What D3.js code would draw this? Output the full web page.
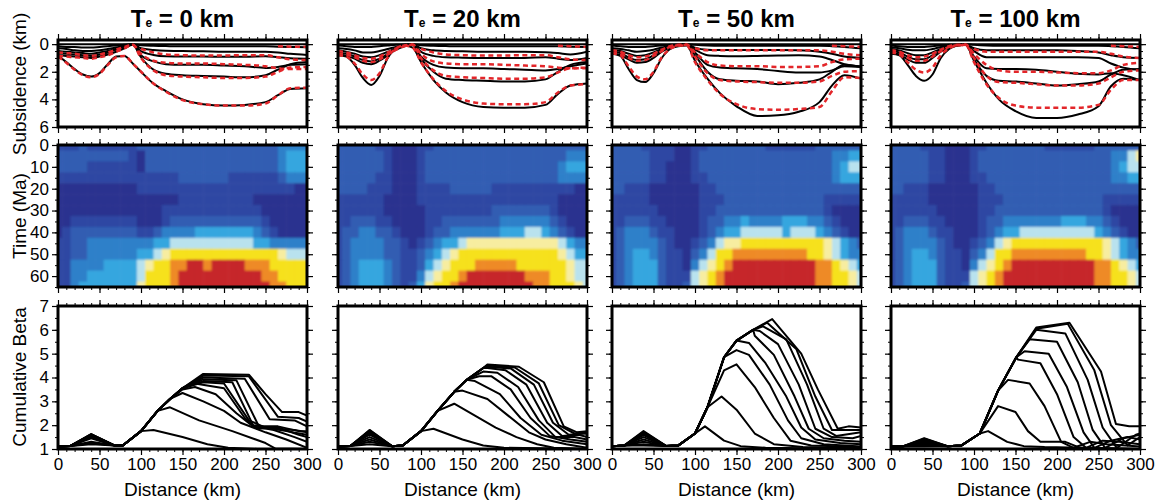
<!DOCTYPE html>
<html>
<head>
<meta charset="utf-8">
<script src="https://cdn.jsdelivr.net/npm/d3@7"></script>
<style>
  body { margin: 0; background: #fff; }
  text { font-family: "Liberation Sans", Arial, Helvetica, sans-serif; }
</style>
</head>
<body>
<div id="fig"></div>
<script>
// elastic thickness of each column (km)
const teValues = ["0", "20", "50", "100"];

// distance nodes for the subsidence horizons (km)
const sx = [0,10,20,30,40,50,60,70,80,90,100,115,130,150,175,200,225,250,265,280,300];
const surface = [0,0,0,0,0,0,0,0,0,0,0,0,0,0,0,0,0,0,0,0,0];

// subsidence of horizons (km): black = model, red = observed (null = not shown)
const sub0Black = [
  [0.15,0.2,0.2,0.25,0.25,0.2,0.15,0.1,0.05,0, 0.08,0.12,0.14,0.15,0.15,0.15,0.15,0.15,0.18,0.2,0.22],
  [0.3,0.35,0.45,0.5,0.5,0.45,0.35,0.25,0.1,0.02, 0.3,0.42,0.48,0.5,0.52,0.55,0.55,0.55,0.6,0.7,0.78],
  [0.5,0.55,0.6,0.65,0.7,0.6,0.5,0.35,0.15,0.03, 0.5,0.78,0.88,0.9,0.9,0.92,0.92,0.88,0.95,1.02,1.05],
  [0.65,0.7,0.75,0.8,0.85,0.75,0.6,0.4,0.2,0.05, 0.8,1.25,1.45,1.5,1.5,1.55,1.6,1.72,1.65,1.5,1.45],
  [0.8,0.85,0.9,0.95,1.0,0.9,0.75,0.55,0.3,0.05, 0.95,1.85,2.15,2.25,2.3,2.35,2.4,2.25,1.85,1.45,1.3],
  [0.85,1.3,1.8,2.2,2.35,2.1,1.45,0.9,0.85,1.4, 2.0,2.85,3.4,4.0,4.35,4.45,4.4,4.2,3.7,3.25,3.2]
];
const sub0Red = [
  [null,null,null,null,null,null,null,null,null,null, null,null,null,null,null,null,null,null,0.15,0.18,0.2],
  [null,null,null,null,null,null,null,null,null,null, 0.35,0.6,0.75,0.8,0.82,0.82,0.8,0.8,0.95,1.1,1.15],
  [0.6,0.65,0.7,0.8,0.85,0.75,0.6,0.4,0.2,0.05, 0.7,1.2,1.35,1.4,1.4,1.45,1.5,1.6,1.75,1.8,1.8],
  [0.85,0.9,0.95,1.0,1.05,0.95,0.8,0.55,0.3,0.05, 1.0,1.9,2.25,2.35,2.4,2.45,2.45,2.35,2.0,1.7,1.65],
  [0.9,1.35,1.85,2.25,2.4,2.15,1.5,0.95,0.85,1.4, 2.0,2.85,3.45,4.05,4.35,4.45,4.45,4.3,3.7,3.2,3.15]
];
const sub20Black = [
  [0.1,0.15,0.2,0.2,0.2,0.15,0.1,0.05,0.02,0, 0.08,0.12,0.14,0.15,0.15,0.15,0.15,0.15,0.15,0.18,0.2],
  [0.3,0.35,0.45,0.6,0.6,0.5,0.35,0.2,0.08,0.02, 0.3,0.45,0.5,0.52,0.55,0.55,0.55,0.58,0.65,0.75,0.55],
  [0.45,0.55,0.7,0.9,0.95,0.8,0.55,0.3,0.1,0.03, 0.55,0.85,0.95,0.98,1.0,1.0,1.0,0.95,1.05,1.15,1.0],
  [0.6,0.7,0.9,1.15,1.25,1.05,0.7,0.35,0.12,0.05, 0.9,1.5,1.7,1.75,1.75,1.8,1.85,1.9,1.8,1.6,1.4],
  [0.7,0.85,1.05,1.35,1.45,1.2,0.8,0.4,0.15,0.05, 1.05,2.0,2.5,2.6,2.65,2.7,2.7,2.55,2.0,1.5,1.3],
  [0.8,0.9,1.5,2.45,2.95,2.3,1.0,0.3,0.1,0.25, 1.3,2.6,3.5,4.2,4.55,4.6,4.6,4.4,3.6,3.0,2.85]
];
const sub20Red = [
  [null,null,null,null,null,null,null,null,null,null, null,null,null,null,null,null,null,null,0.12,0.15,0.2],
  [null,null,null,null,null,null,null,null,null,null, 0.35,0.6,0.75,0.8,0.82,0.82,0.8,0.8,0.95,1.1,1.15],
  [0.5,0.6,0.8,1.0,1.05,0.9,0.6,0.3,0.1,0.03, 0.7,1.25,1.4,1.45,1.45,1.5,1.55,1.6,1.7,1.75,1.75],
  [0.65,0.75,0.95,1.2,1.3,1.1,0.75,0.4,0.15,0.05, 1.0,1.9,2.3,2.4,2.45,2.5,2.5,2.4,2.05,1.75,1.7],
  [0.8,0.9,1.4,2.2,2.6,2.1,0.95,0.3,0.1,0.25, 1.3,2.55,3.4,4.0,4.3,4.35,4.35,4.2,3.5,3.0,2.9]
];
const sub50Black = [
  [0.1,0.15,0.2,0.2,0.2,0.15,0.1,0.05,0.02,0, 0.05,0.1,0.12,0.12,0.12,0.12,0.12,0.12,0.15,0.2,0.3],
  [0.3,0.35,0.45,0.55,0.5,0.4,0.25,0.1,0.05,0.02, 0.25,0.4,0.42,0.43,0.43,0.43,0.45,0.55,0.7,0.9,1.0],
  [0.4,0.5,0.7,0.85,0.8,0.6,0.35,0.15,0.05,0.03, 0.4,0.8,0.85,0.87,0.85,0.82,0.8,0.9,1.15,1.45,1.6],
  [0.55,0.65,0.95,1.15,1.1,0.8,0.45,0.2,0.08,0.05, 0.6,1.5,1.7,1.75,1.8,1.95,2.05,2.05,1.9,1.6,1.65],
  [0.65,0.8,1.1,1.35,1.3,1.0,0.55,0.25,0.1,0.05, 0.8,2.0,2.55,2.65,2.7,2.9,2.8,2.55,2.0,1.5,1.65],
  [0.7,0.85,1.8,2.6,2.75,2.1,1.0,0.35,0.15,0.1, 1.2,2.5,3.55,4.5,5.2,5.15,4.9,4.2,3.0,2.25,2.5]
];
const sub50Red = [
  [null,null,null,null,null,null,null,null,null,null, null,null,null,null,null,null,null,null,0.12,0.15,0.2],
  [null,null,null,null,null,null,null,null,null,null, 0.3,0.45,0.45,0.45,0.45,0.45,0.45,0.45,0.55,0.7,0.8],
  [0.45,0.55,0.8,0.95,0.9,0.7,0.4,0.15,0.05,0.03, 0.6,1.3,1.55,1.6,1.6,1.65,1.65,1.6,1.3,1.1,1.05],
  [0.6,0.7,1.0,1.2,1.15,0.85,0.5,0.2,0.08,0.05, 0.9,2.1,2.6,2.7,2.75,2.8,2.8,2.7,2.3,2.0,1.95],
  [0.65,0.8,1.6,2.35,2.55,2.0,0.95,0.35,0.12,0.1, 1.3,2.6,3.6,4.35,4.7,4.75,4.7,4.55,3.4,2.4,2.45]
];
const sub100Black = [
  [0.1,0.15,0.2,0.2,0.2,0.15,0.1,0.05,0.02,0, 0.05,0.1,0.12,0.12,0.12,0.12,0.12,0.12,0.15,0.2,0.3],
  [0.25,0.3,0.4,0.45,0.45,0.35,0.2,0.1,0.05,0.02, 0.3,0.45,0.45,0.45,0.45,0.45,0.5,0.6,0.8,0.95,1.0],
  [0.35,0.45,0.65,0.8,0.8,0.6,0.35,0.15,0.05,0.03, 0.5,0.95,0.95,0.95,0.95,0.95,0.95,1.0,1.4,1.7,1.85],
  [0.5,0.6,0.9,1.1,1.1,0.8,0.45,0.2,0.08,0.05, 0.9,1.75,1.8,1.8,1.85,2.0,2.15,2.2,2.1,2.25,2.6],
  [0.6,0.75,1.1,1.35,1.35,1.0,0.55,0.25,0.1,0.05, 1.1,2.3,2.65,2.7,2.85,3.0,2.9,2.7,2.2,1.85,1.8],
  [0.7,0.8,1.5,2.3,2.65,2.2,1.0,0.35,0.1,0.05, 1.2,2.8,4.0,4.85,5.35,5.35,5.1,4.5,3.05,2.5,2.6]
];
const sub100Red = [
  [null,null,null,null,null,null,null,null,null,null, null,null,null,null,null,null,null,null,0.12,0.15,0.2],
  [null,null,null,null,null,null,null,null,null,null, 0.35,0.55,0.55,0.55,0.55,0.55,0.55,0.55,0.7,0.9,1.0],
  [0.45,0.55,0.8,0.95,0.9,0.7,0.4,0.15,0.05,0.03, 0.7,1.5,1.9,2.0,2.0,2.05,2.1,2.1,1.9,1.5,1.35],
  [0.55,0.7,1.0,1.2,1.2,0.9,0.5,0.2,0.08,0.05, 1.0,2.3,2.75,2.8,2.9,3.0,3.0,2.85,2.4,2.0,1.9],
  [0.6,0.75,1.3,1.85,2.05,1.7,0.8,0.3,0.1,0.05, 1.3,2.9,3.9,4.45,4.6,4.6,4.6,4.4,3.3,2.6,2.6]
];

// strain-rate levels 0..9; rows are 0,5,...,65 Ma, columns 0,10,...,300 km
const heat0 = [
  "1112111111 2222222222 2222222333 3",
  "2222222221 0222222222 2222222344 4",
  "2222111111 0222222222 2222222344 4",
  "1111111111 1111122222 2111111233 3",
  "0000000000 1111111111 1111111110 0",
  "0000000000 0000011111 1111000000 0",
  "0000000000 0001111111 1111100000 0",
  "0011111111 0001222222 2222210000 0",
  "0122222222 1123333444 4444321000 0",
  "1122333333 3344555555 5555443333 3",
  "1122333333 4456777777 7777777655 5",
  "1133334444 5677889989 9998887777 7",
  "1133444444 5777899999 9999988777 7",
  "1134444444 6777899999 9999998877 7"
];
const heat20 = [
  "2222211000 1122222222 2222222222 2",
  "2222221000 1222222222 2222222233 3",
  "2222221000 1222222222 2222222344 4",
  "2222211000 1222222222 2222222333 3",
  "2222111000 1111222221 1111111110 0",
  "1111110000 1111111111 1111111000 0",
  "1111110000 0111111112 2222221000 0",
  "1122211000 0112222222 3333332100 0",
  "1223322100 0122333333 4445543210 0",
  "1233332210 1234456666 6666666543 3",
  "1233332211 2345677777 7777777654 4",
  "1234443211 2456777888 8877777765 5",
  "1234443211 3567789999 9998887765 5",
  "1234443212 4677899999 9999887776 5"
];
const heat50 = [
  "2222111100 1122222221 1111122222 2",
  "2222211100 1222222222 2222222334 4",
  "2222211000 1222222222 2222222345 5",
  "2222211000 1122222222 2222222344 4",
  "2211100000 0112222222 2222222222 2",
  "1111100000 0111222222 2222221111 1",
  "1111110000 0112222222 2222221000 0",
  "1122211000 0122334333 3444332100 0",
  "1233321100 0123445555 5455543210 0",
  "1233332100 1235667777 7777776543 2",
  "1234432110 2357788888 8888776543 3",
  "1234442110 3567899999 9999988765 4",
  "1234442111 5678999999 9999988776 5",
  "1234442112 5678999999 9999988776 5"
];
const heat100 = [
  "2222111000 1122222221 1111122222 2",
  "2222211000 1222222222 2222222335 6",
  "2222211000 1222222222 2222222345 5",
  "2222211000 1122222222 2222222334 4",
  "2211100000 0112222222 2222222222 2",
  "1111100000 0111222222 2222221111 1",
  "1111110000 0112222222 2222221000 0",
  "1122211000 0122333333 3444332100 0",
  "1233321100 0123445555 5555543210 0",
  "1233332100 1235677777 7777776543 2",
  "1234432110 2357788888 8888776543 3",
  "1234442110 3567899999 9999988765 4",
  "1234442111 5678999999 9999988776 5",
  "1234442112 5678999999 9999988776 5"
];
const heatColours = ["#2a328f", "#2d47a3", "#305db2", "#2f80c9", "#35a6df",
                     "#b9e2ee", "#f7eda0", "#f6e11e", "#ee8a26", "#c6282b"];

// cumulative beta: shared rising flank [km, beta], bump height per line, then each line's falling part
const beta0Rise = [[0,1.1],[15,1.13],[40,1.6],[68,1.15],[78,1.15],[100,1.75],[120,2.6],[135,3.1],[150,3.55],[175,4.1]];
const beta0Bump = [1.2,1.25,1.3,1.45,1.5,1.55,1.55,1.6,1.6,1.62,1.62];
const beta0Lines = [
  [[115,1.8],[150,1.5],[180,1.2],[205,1.05],[240,1.0],[300,1.0]],
  [[135,2.75],[170,2.2],[210,1.75],[250,1.25],[262,1.02],[300,1.0]],
  [[150,3.35],[175,3.0],[200,2.6],[220,2.1],[250,1.7],[275,1.4],[300,1.05]],
  [[150,3.5],[165,3.6],[190,3.3],[215,2.5],[235,1.95],[260,1.8],[285,1.5],[300,1.3]],
  [[165,3.75],[200,3.55],[225,2.3],[240,1.85],[265,1.9],[290,1.6],[300,1.5]],
  [[175,3.8],[200,3.75],[230,2.2],[250,1.9],[275,1.75],[300,1.6]],
  [[175,3.85],[210,3.8],[235,2.0],[260,1.85],[285,1.8],[300,1.7]],
  [[175,3.92],[215,3.88],[242,1.95],[265,1.95],[290,1.75],[300,1.75]],
  [[175,4.0],[225,3.95],[255,2.25],[285,2.2],[300,1.95]],
  [[175,4.08],[230,4.05],[265,2.35],[290,2.3],[300,2.15]],
  [[175,4.15],[230,4.12],[250,3.3],[270,2.55],[290,2.55],[300,2.4]]
];
const beta20Rise = [[0,1.1],[15,1.13],[38,1.8],[65,1.12],[78,1.15],[100,1.75],[120,2.6],[140,3.4],[155,3.9],[175,4.4]];
const beta20Bump = [1.2,1.3,1.4,1.5,1.6,1.65,1.7,1.75,1.78,1.8];
const beta20Lines = [
  [[115,1.85],[150,1.4],[175,1.15],[200,1.05],[300,1.0]],
  [[140,2.9],[165,2.4],[190,1.9],[215,1.5],[240,1.2],[260,1.05],[300,1.0]],
  [[150,3.45],[180,3.1],[205,2.4],[230,1.7],[250,1.4],[275,1.2],[300,1.05]],
  [[165,3.85],[195,3.3],[220,2.3],[245,1.6],[270,1.35],[300,1.2]],
  [[170,4.05],[185,4.05],[208,3.5],[232,2.3],[255,1.55],[280,1.4],[300,1.3]],
  [[175,4.25],[192,4.2],[217,3.6],[242,2.2],[262,1.5],[285,1.5],[300,1.4]],
  [[180,4.4],[202,4.3],[227,3.7],[252,2.1],[270,1.55],[290,1.6],[300,1.5]],
  [[180,4.45],[208,4.38],[236,3.7],[259,2.1],[278,1.6],[300,1.65]],
  [[180,4.5],[213,4.42],[242,3.75],[266,2.0],[285,1.65],[300,1.7]],
  [[180,4.55],[218,4.45],[248,3.8],[272,1.95],[288,1.7],[300,1.75]]
];
const beta50Rise = [[0,1.12],[15,1.15],[38,1.75],[65,1.13],[80,1.15],[100,1.65],[115,2.75],[135,4.85],[150,5.55],[170,6.0]];
const beta50Bump = [1.15,1.2,1.3,1.4,1.5,1.58,1.64,1.68,1.72,1.75];
const beta50Lines = [
  [[112,1.95],[135,1.35],[155,1.12],[185,1.05],[300,1.0]],
  [[132,3.2],[150,2.65],[172,1.65],[195,1.2],[230,1.08],[300,1.03]],
  [[135,4.3],[150,4.55],[172,3.6],[195,2.3],[215,1.35],[240,1.15],[300,1.08]],
  [[150,5.15],[165,4.95],[190,3.7],[212,2.2],[228,1.45],[255,1.2],[300,1.1]],
  [[165,5.45],[185,4.6],[210,3.2],[228,1.9],[245,1.4],[275,1.25],[300,1.2]],
  [[172,5.75],[195,4.95],[220,3.2],[237,1.85],[255,1.45],[280,1.35],[300,1.3]],
  [[178,5.95],[200,5.4],[225,3.7],[245,1.85],[265,1.5],[290,1.45],[300,1.55]],
  [[182,6.15],[210,5.6],[235,3.7],[255,1.85],[270,1.55],[300,1.7]],
  [[187,6.3],[222,5.2],[245,3.2],[265,1.8],[285,1.8],[300,1.8]],
  [[193,6.45],[228,5.0],[248,3.5],[272,1.85],[285,1.95],[300,1.9]]
];
const beta100Rise = [[0,1.1],[15,1.12],[40,1.45],[68,1.12],[85,1.15],[107,1.65],[129,3.45],[151,4.85],[175,6.0]];
const beta100Bump = [1.1,1.15,1.2,1.25,1.3,1.35,1.4,1.43,1.45];
const beta100Lines = [
  [[117,1.75],[140,1.3],[160,1.12],[185,1.08],[300,1.0]],
  [[129,2.8],[150,2.55],[165,1.75],[180,1.3],[210,1.3],[228,1.05],[300,1.0]],
  [[141,3.9],[167,3.75],[185,2.8],[205,1.3],[220,1.05],[240,1.3],[260,1.2],[300,1.1]],
  [[153,4.75],[180,4.6],[200,3.3],[220,1.5],[235,1.05],[255,1.35],[275,1.3],[300,1.2]],
  [[161,5.1],[190,5.0],[212,3.6],[232,1.7],[245,1.05],[265,1.35],[285,1.5],[300,1.4]],
  [[167,5.6],[200,5.5],[225,3.8],[243,1.8],[258,1.05],[280,1.45],[300,1.6]],
  [[175,6.0],[210,5.85],[237,3.9],[255,1.9],[272,1.05],[295,1.6],[300,1.65]],
  [[175,6.05],[213,6.25],[245,4.3],[265,2.0],[285,1.15],[300,1.5]],
  [[175,6.1],[215,6.3],[253,4.25],[271,2.05],[287,1.95],[300,1.95]]
];

(function() {
  const width = 1165, height = 504;
  const colX = [58, 338, 612, 891], pw = 249;
  const font = '"Liberation Sans", Arial, Helvetica, sans-serif';

  const subBlack = [sub0Black, sub20Black, sub50Black, sub100Black];
  const subRed = [sub0Red, sub20Red, sub50Red, sub100Red];
  const heats = [heat0, heat20, heat50, heat100];
  const rises = [beta0Rise, beta20Rise, beta50Rise, beta100Rise];
  const bumps = [beta0Bump, beta20Bump, beta50Bump, beta100Bump];
  const betaLines = [beta0Lines, beta20Lines, beta50Lines, beta100Lines];

  const svg = d3.select("#fig").append("svg")
      .attr("width", width).attr("height", height);
  const defs = svg.append("defs");

  // soften the gridded image a little, like the interpolated original
  defs.append("filter").attr("id", "soft")
      .attr("x", "-5%").attr("y", "-5%").attr("width", "110%").attr("height", "110%")
    .append("feGaussianBlur").attr("stdDeviation", 1.1);

  // ticks on all four sides, pointing outward
  function axes(x, y, yMajor, yMinor, showY, showX) {
    const top = d3.min(y.range()), bot = d3.max(y.range());
    const [x0, x1] = x.range();
    const xMaj = d3.range(0, 301, 50), xMin = d3.range(0, 301, 10);
    const sets = [
      [d3.axisTop, x, xMaj, xMin, false, `translate(0,${top})`],
      [d3.axisBottom, x, xMaj, xMin, showX, `translate(0,${bot})`],
      [d3.axisLeft, y, yMajor, yMinor, showY, `translate(${x0},0)`],
      [d3.axisRight, y, yMajor, yMinor, false, `translate(${x1},0)`]
    ];
    sets.forEach(([ax, s, maj, min, lab, tr]) => {
      svg.append("g").attr("transform", tr)
        .call(ax(s).tickValues(min).tickSize(3).tickFormat(""))
        .call(g => g.select(".domain").remove());
      svg.append("g").attr("transform", tr)
        .call(ax(s).tickValues(maj).tickSize(6).tickPadding(3).tickFormat(lab ? d3.format("d") : ""))
        .attr("font-size", 17).attr("font-family", font)
        .call(g => g.select(".domain").remove())
        .selectAll("line").attr("stroke-width", 1.2);
    });
  }

  function frame(x0, top, bot) {
    svg.append("rect")
      .attr("x", x0).attr("y", top).attr("width", pw).attr("height", bot - top)
      .attr("fill", "none").attr("stroke", "black").attr("stroke-width", 3);
  }

  function clipFor(id, x0, top, bot) {
    defs.append("clipPath").attr("id", id).append("rect")
      .attr("x", x0).attr("y", top).attr("width", pw).attr("height", bot - top);
    return svg.append("g").attr("clip-path", `url(#${id})`);
  }

  colX.forEach((x0, c) => {
    const x = d3.scaleLinear().domain([0, 300]).range([x0, x0 + pw]);

    // title
    const t = svg.append("text")
      .attr("x", x0 + pw / 2).attr("y", 27)
      .attr("text-anchor", "middle").attr("font-weight", "bold").attr("font-size", 24);
    t.append("tspan").text("T");
    t.append("tspan").attr("font-size", 12).text("e");
    t.append("tspan").text(" = " + teValues[c] + " km");

    // --- subsidence
    const ys = d3.scaleLinear().domain([-0.3, 6]).range([40, 127]);
    const g1 = clipFor("clipS" + c, x0, 40, 127);
    const subLine = d3.line()
      .defined(d => d !== null)
      .x((d, i) => x(sx[i])).y(d => ys(d))
      .curve(d3.curveMonotoneX);
    g1.append("path").attr("d", subLine(surface))
      .attr("fill", "none").attr("stroke", "black").attr("stroke-width", 2);
    g1.selectAll("path.blk").data(subBlack[c]).join("path").attr("class", "blk")
      .attr("d", subLine)
      .attr("fill", "none").attr("stroke", "black").attr("stroke-width", 2);
    g1.selectAll("path.red").data(subRed[c]).join("path").attr("class", "red")
      .attr("d", subLine)
      .attr("fill", "none").attr("stroke", "#e3262a").attr("stroke-width", 2.5)
      .attr("stroke-dasharray", "5,3.5");
    axes(x, ys, [0, 2, 4, 6], d3.range(0, 6.01, 0.5), c === 0, false);
    frame(x0, 40, 127);

    // --- time / strain-rate image (edge cells run past the frame so the blur stays even)
    const yt = d3.scaleLinear().domain([0, 65]).range([145, 287]);
    const g2 = clipFor("clipT" + c, x0, 145, 287).append("g").attr("filter", "url(#soft)");
    const cells = [];
    heats[c].forEach((row, r) => {
      row.replace(/ /g, "").split("").forEach((v, k) => {
        cells.push({ t: r * 5, km: k * 10, v: +v });
      });
    });
    const x0c = d => d.km === 0 ? -15 : d.km - 5;
    const x1c = d => d.km === 300 ? 315 : d.km + 5;
    const t0c = d => d.t === 0 ? -5 : d.t - 2.5;
    const t1c = d => d.t === 65 ? 70 : d.t + 2.5;
    g2.selectAll("rect").data(cells).join("rect")
      .attr("x", d => x(x0c(d)))
      .attr("width", d => x(x1c(d)) - x(x0c(d)) + 0.6)
      .attr("y", d => yt(t0c(d)))
      .attr("height", d => yt(t1c(d)) - yt(t0c(d)) + 0.6)
      .attr("fill", d => heatColours[d.v]);
    axes(x, yt, d3.range(0, 61, 10), d3.range(0, 66, 5), c === 0, false);
    frame(x0, 145, 287);

    // --- cumulative beta
    const yb = d3.scaleLinear().domain([1, 7]).range([449, 306]);
    const g3 = clipFor("clipB" + c, x0, 306, 449);
    const betaLine = d3.line().x(d => x(d[0])).y(d => yb(d[1]));
    const rise = rises[c], bump = bumps[c];
    const paths = betaLines[c].map((desc, i) =>
      rise.map((p, j) => j === 2 ? [p[0], bump[i]] : p)
          .filter(p => p[0] < desc[0][0])
          .concat(desc));
    g3.selectAll("path").data(paths).join("path")
      .attr("d", betaLine)
      .attr("fill", "none").attr("stroke", "black").attr("stroke-width", 2)
      .attr("stroke-linejoin", "round");
    axes(x, yb, d3.range(1, 8, 1), d3.range(1, 7.01, 0.5), c === 0, true);
    frame(x0, 306, 449);

    svg.append("text")
      .attr("x", x0 + pw / 2).attr("y", 496)
      .attr("text-anchor", "middle").attr("font-size", 19)
      .text("Distance (km)");
  });

  // y axis titles
  [["Subsidence (km)", 84], ["Time (Ma)", 216], ["Cumulative Beta", 377]].forEach(([label, cy]) => {
    svg.append("text")
      .attr("transform", `translate(26,${cy}) rotate(-90)`)
      .attr("text-anchor", "middle").attr("font-size", 19)
      .text(label);
  });
})();
</script>
</body>
</html>
